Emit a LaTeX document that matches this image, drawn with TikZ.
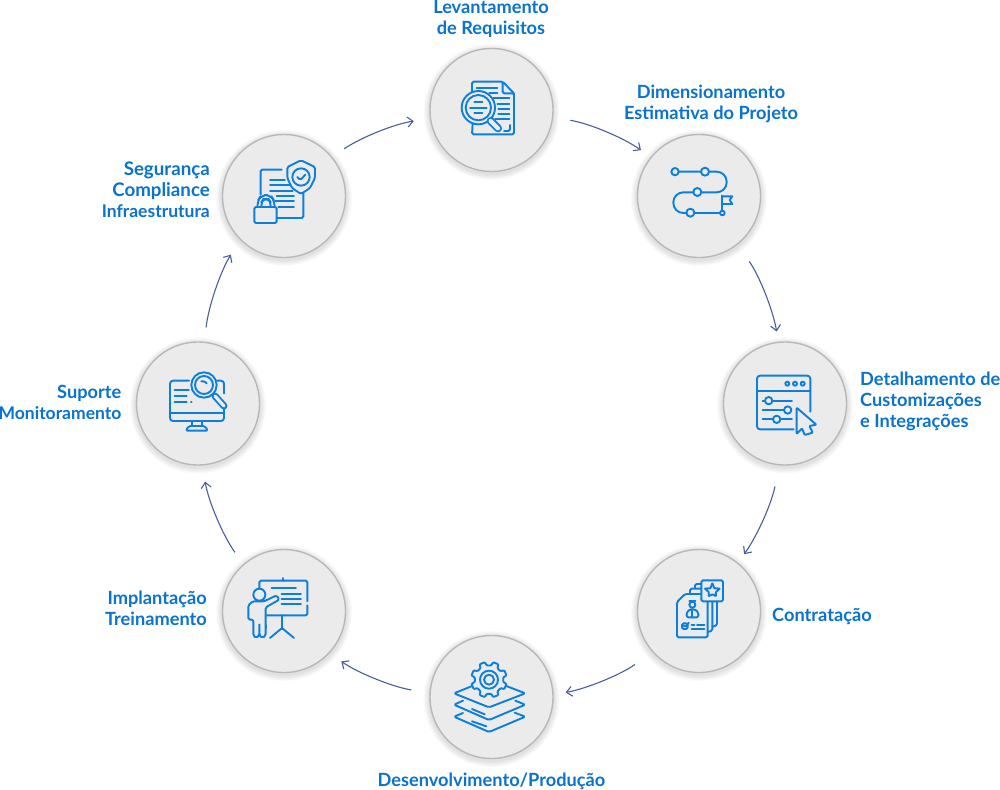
\documentclass[tikz,border=0pt]{standalone}
\usepackage{fontspec}
\setmainfont{Lato}
\usetikzlibrary{arrows.meta}
\definecolor{iconblue}{HTML}{0C7EDD}
\definecolor{textblue}{HTML}{0A72CF}
\definecolor{flowblue}{HTML}{4A5CA3}
\definecolor{discfill}{HTML}{EBEBEB}
\definecolor{discedge}{HTML}{B8B8B8}
\newcommand{\szwide}{\fontsize{18.7}{20.8}\selectfont}
\newcommand{\sznorm}{\fontsize{18.2}{20.8}\selectfont}
\newcommand{\sztight}{\fontsize{17.5}{20.8}\selectfont}
\tikzset{
  disc/.style={circle,draw=discedge,fill=discfill,line width=1.4pt,minimum size=123pt,inner sep=0pt,outer sep=0pt},
  lab/.style={text=textblue,font=\fontsize{18.2}{21}\selectfont\bfseries,inner sep=0pt},
  flow/.style={draw=flowblue,line width=1.1pt,-{Straight Barb[length=5.5pt,width=10pt,line width=1.1pt]}},
  ico/.style={draw=iconblue,line width=1.9pt,line cap=round,line join=round,rounded corners=1.5pt},
  bgf/.style={fill=discfill},
  pane/.style 2 args={shift={(#1,#2)},x=0.33333pt,y=-0.33333pt}
}
\begin{document}
\begin{tikzpicture}[x=1pt,y=-1pt]
\useasboundingbox (0,0) rectangle (1000,789);
\fill[white] (0,0) rectangle (1000,789);
% soft shadows
\foreach \cx/\cy in {491.5/110,699/196,785/403.5,699/611,491.5/697,284/611,198/403.5,284/196}{
  \foreach \r in {68,67,66,65,64,63}{
    \fill[black,opacity=.018] (\cx,\cy+2) circle (\r);
  }
}
% discs
\node[disc] (n1) at (491.5,110) {};
\node[disc] (n2) at (699,196) {};
\node[disc] (n3) at (785,403.5) {};
\node[disc] (n4) at (699,611) {};
\node[disc] (n5) at (491.5,697) {};
\node[disc] (n6) at (284,611) {};
\node[disc] (n7) at (198,403.5) {};
\node[disc] (n8) at (284,196) {};
% connectors
\draw[flow,shorten <=18pt,shorten >=12.5pt] (n1.-7) to[bend left=13,looseness=.86] (n2.141);
\draw[flow,shorten <=21pt,shorten >=11pt] (n2.-52) to[bend left=13,looseness=.86] (n3.96);
\draw[flow,shorten <=22pt,shorten >=11pt] (n3.-96) to[bend left=13,looseness=.86] (n4.51);
\draw[flow,shorten <=22pt,shorten >=13pt] (n4.-139) to[bend left=13,looseness=.86] (n5.2);
\draw[flow,shorten <=19pt,shorten >=15pt] (n5.176) to[bend left=13,looseness=.86] (n6.-43);
\draw[flow,shorten <=15pt,shorten >=17pt] (n6.131) to[bend left=13,looseness=.86] (n7.-86);
\draw[flow,shorten <=15pt,shorten >=18pt] (n7.84) to[bend left=13,looseness=.86] (n8.-135);
\draw[flow,shorten <=15pt,shorten >=17pt] (n8.39) to[bend left=13,looseness=.86] (n1.-172);
% labels
\node[lab,align=center,anchor=north] (t1) at (491,0.3) {Levantamento\\de Requisitos};
\node[lab,align=center] (t2) at (711,104) {Dimensionamento\\Estimativa do Projeto};
\node[lab,align=left,anchor=west] (t3) at (860,401.5) {Detalhamento de\\Customizações\\e Integrações};
\node[lab,anchor=west] (t4) at (772,616) {Contratação};
\node[lab] (t5) at (491.5,781) {Desenvolvimento/Produção};
\node[lab,align=right,anchor=east] (t6) at (207,608) {Implantação\\Treinamento};
\node[lab,align=right,anchor=east] (t7) at (121.5,402) {\sznorm Suporte\\\sztight Monitoramento};
\node[lab,align=right,anchor=east] (t8) at (210,189.5) {\szwide Segurança\\\szwide Compliance\\\sztight Infraestrutura};
% icon 1: document + lens
\begin{scope}[pane={430}{45}]
\draw[ico] (128,235)--(126,268)--(252,268)--(252,145)--(218,110)--(126,110)--(126,150);
\draw[ico] (218,112)--(218,145)--(252,145);
\draw[ico] (140,128)--(202,128) (178,143)--(202,143) (190,160)--(238,160) (202,176)--(238,176) (205,192)--(238,192) (205,208)--(238,208) (195,223)--(238,223);
\draw[ico] (240,240)--(240,258)--(222,258);
\draw[ico,bgf] (145,188) circle (50);
\draw[ico] (145,188) circle (38);
\draw[ico] (133,172)--(157,172) (120,188)--(170,188) (133,205)--(157,205);
\draw[iconblue,line width=8pt,line cap=round] (182,228)--(204,250);
\draw[discfill,line width=4.2pt,line cap=round] (182,228)--(204,250);
\end{scope}
% icon 2: route
\begin{scope}[pane={635}{133}]
\draw[ico,rounded corners=10pt] (131,116)--(198,116) (222,116)--(275,116)--(275,178)--(199,178) (175,178)--(115,178)--(115,240)--(154,240);
\draw[ico] (178,239)--(255,239);
\draw[ico] (120,116) circle (11) (210,116) circle (12) (187,177) circle (12) (166,239) circle (12) (262,240) circle (7);
\draw[ico] (262,232)--(262,188);
\draw[ico,rounded corners=0pt] (262,190)--(292,190)--(284,201)--(292,213)--(262,213);
\end{scope}
% icon 3: window + cursor
\begin{scope}[pane={722}{340}]
\draw[ico,rounded corners=3pt] (265,215)--(265,107)--(105,107)--(105,268)--(215,268);
\draw[ico] (105,153)--(265,153);
\draw[ico] (196,131) circle (6) (219,131) circle (6) (242,131) circle (6);
\draw[ico] (122,182)--(129,182) (151,182)--(210,182) (122,210)--(186,210) (122,238)--(153,238) (175,238)--(210,238);
\draw[ico] (140,182) circle (11) (197,210) circle (11) (164,238) circle (11);
\draw[ico,rounded corners=.8pt] (224,203)--(283,254)--(262,258)--(272,278)--(248,285)--(240,265)--(224,282)--cycle;
\end{scope}
% icon 4: badge files
\begin{scope}[pane={635}{548}]
\draw[ico] (180,120)--(180,108)--(199,108);
\draw[ico] (165,136)--(165,122)--(199,122);
\draw[ico] (246,160)--(246,232)--(232,236);
\draw[ico] (232,160)--(232,248)--(218,252);
\draw[ico,bgf] (150,138)--(218,138)--(218,268)--(126,268)--(126,162)--cycle;
\draw[ico,bgf] (199,97) rectangle (264,160);
\draw[ico,rounded corners=.5pt,shift={(232,129)}] (270:24) -- (306:10) -- (342:24) -- (18:11) -- (54:19) -- (90:10) -- (126:19) -- (162:11) -- (198:24) -- (234:10) -- cycle;
\draw[ico] (172,170) circle (9);
\draw[ico] (163,160)--(181,160);
\draw[ico] (155,208)--(155,194)--(164,184)--(180,184)--(190,194)--(190,208)--cycle;
\draw[ico] (172,188)--(172,208);
\draw[ico] (141,226) rectangle (158,243);
\draw[ico] (146,232)--(152,238)--(161,224);
\draw[ico] (170,231)--(178,231) (186,231)--(208,231) (170,242)--(208,242);
\end{scope}
% icon 5: gear + layers
\begin{scope}[pane={428}{634}]
\draw[ico] (135,155)--(78,178)--(183,220)--(292,178)--(232,155);
\draw[ico] (105,200)--(78,212)--(183,258)--(292,212)--(262,200);
\draw[ico] (105,237)--(78,248)--(183,294)--(292,248)--(260,236);
\draw[ico] (132,225)--(170,241) (132,262)--(175,277);
\begin{scope}[shift={(183,137)}]
\draw[ico,bgf,rounded corners=1pt] (0:43)
  \foreach \a in {0,45,...,315}{
    -- (\a+9.5:43) -- (\a+13:54) -- (\a+32:54) -- (\a+35.5:43)
  } -- cycle;
\draw[ico] (0,0) circle (27) (0,0) circle (15);
\end{scope}
\end{scope}
% icon 6: presenter
\begin{scope}[pane={220}{548}]
\draw[ico] (118,122)--(118,98)--(262,98)--(262,160);
\draw[ico] (262,172)--(262,202)--(140,202);
\draw[ico] (190,90)--(190,98);
\draw[ico] (155,120)--(228,120) (185,137)--(243,137) (185,153)--(243,153) (185,169)--(243,169);
\draw[ico] (186,202)--(186,240) (150,270)--(186,240)--(222,270);
\draw[ico,bgf] (118,140) circle (18);
\draw[ico,bgf] (85,215)--(85,172)--(98,160)--(132,160)--(170,142)--(178,155)--(137,178)--(137,262)--(128,270)--(118,262)--(118,225)--(118,262)--(108,270)--(100,262)--(100,215)--cycle;
\draw[ico] (137,232)--(137,240);
\end{scope}
% icon 7: monitor + lens
\begin{scope}[pane={134}{340}]
\draw[ico,rounded corners=3pt] (165,122)--(108,122)--(108,243)--(270,243)--(270,195);
\draw[ico,rounded corners=3pt] (250,122)--(270,122)--(270,160);
\draw[ico] (108,218)--(270,218);
\draw[ico] (175,243)--(175,258) (205,243)--(205,258);
\draw[ico] (165,258)--(212,258)--(222,272)--(155,272)--cycle;
\draw[ico] (122,150)--(165,150) (122,168)--(158,168) (122,187)--(158,187) (171,187)--(173,187);
\draw[ico,bgf] (210,135) circle (38);
\draw[ico] (210,135) circle (27);
\draw[ico] (202,124)--(210,123)--(218,130);
\draw[iconblue,line width=7pt,line cap=round] (243,168)--(270,198);
\draw[discfill,line width=3.2pt,line cap=round] (243,168)--(270,198);
\end{scope}
% icon 8: document + shield + lock
\begin{scope}[pane={220}{133}]
\draw[ico] (122,185)--(122,110)--(185,110);
\draw[ico] (250,180)--(250,255)--(172,255);
\draw[ico] (150,140)--(195,140) (150,157)--(208,157) (150,173)--(218,173) (170,190)--(222,190) (165,205)--(222,205) (175,222)--(222,222);
\draw[ico,bgf] (243,82)--(285,102)--(285,135)--(270,165)--(243,183)--(216,165)--(202,135)--(202,102)--cycle;
\draw[ico] (243,132) circle (26);
\draw[ico] (232,132)--(241,141)--(256,125);
\draw[ico,bgf,rounded corners=6pt] (112,224)--(112,205)--(124,186)--(152,186)--(164,205)--(164,224);
\draw[ico,rounded corners=4pt] (124,224)--(124,208)--(130,198)--(146,198)--(152,208)--(152,224);
\draw[ico,bgf] (103,222) rectangle (170,270);
\end{scope}
\end{tikzpicture}
\end{document}
